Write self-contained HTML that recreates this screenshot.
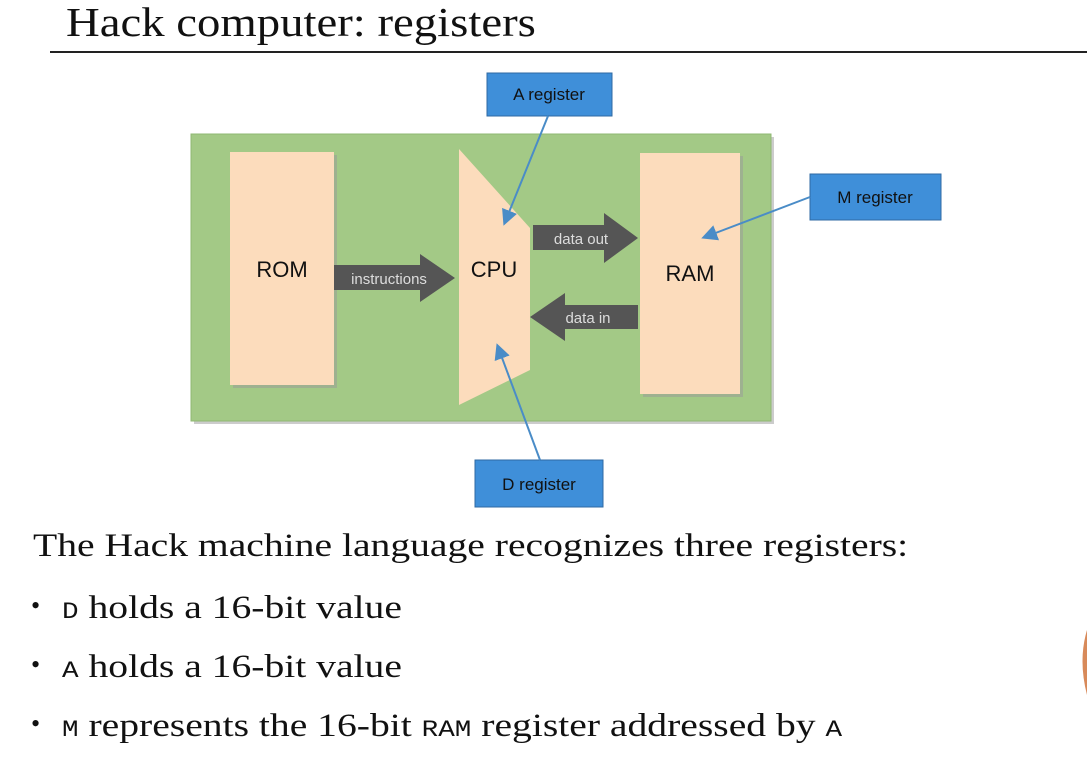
<!DOCTYPE html>
<html><head><meta charset="utf-8"><style>
body{margin:0;width:1087px;height:768px;background:#fff;position:relative;overflow:hidden;font-family:"Liberation Serif",serif;color:#111}
.t{position:absolute;white-space:nowrap;transform-origin:0 0}
.s{font-size:33px;line-height:33px;transform:scaleX(1.2)}
.m{font-family:"Liberation Mono",monospace;font-size:23px}
.b{position:absolute;left:31px;font-size:26px;line-height:30px}
</style></head><body>
<div class="t" style="left:66px;top:-2px;font-size:41px;transform:scaleX(1.14)">Hack computer: registers</div>
<div style="position:absolute;left:50px;top:51px;width:1037px;height:2px;background:#222"></div>
<svg style="position:absolute;left:0;top:0" width="1087" height="768">
<defs><marker id="ah" markerWidth="8" markerHeight="8" refX="6" refY="4" orient="auto"><path d="M0,0 L8,4 L0,8 z" fill="#4a8cc7"/></marker></defs>
<rect x="194" y="137" width="580" height="287" fill="#9a9a9a" opacity=".5"/>
<rect x="191" y="134" width="580" height="287" fill="#a3c986" stroke="#8fb873"/>
<rect x="233" y="155" width="104" height="233" fill="#999" opacity=".5"/>
<rect x="230" y="152" width="104" height="233" fill="#fcdcbc"/>
<rect x="643" y="156" width="100" height="241" fill="#999" opacity=".5"/>
<rect x="640" y="153" width="100" height="241" fill="#fcdcbc"/>
<polygon points="459,149 530,228 530,370 459,405" fill="#fcdcbc"/>
<polygon points="334,265 420,265 420,254 455,278 420,302 420,290 334,290" fill="#555"/>
<polygon points="533,225 604,225 604,213 638,238 604,263 604,250 533,250" fill="#555"/>
<polygon points="638,305 565,305 565,293 530,317 565,341 565,329 638,329" fill="#555"/>
<g font-family="Liberation Sans,sans-serif" fill="#111">
<text x="282" y="277" font-size="22" text-anchor="middle">ROM</text>
<text x="494" y="277" font-size="22" text-anchor="middle">CPU</text>
<text x="690" y="281" font-size="22" text-anchor="middle">RAM</text>
</g>
<g font-family="Liberation Sans,sans-serif" fill="#ddd" font-size="15">
<text x="389" y="284" text-anchor="middle">instructions</text>
<text x="581" y="244" text-anchor="middle">data out</text>
<text x="588" y="323" text-anchor="middle">data in</text>
</g>
<g fill="#3f8fd9" stroke="#2f6aa3">
<rect x="487" y="73" width="125" height="43"/>
<rect x="810" y="174" width="131" height="46"/>
<rect x="475" y="460" width="128" height="47"/>
</g>
<g font-family="Liberation Sans,sans-serif" fill="#111" font-size="17" text-anchor="middle">
<text x="549" y="100">A register</text>
<text x="875" y="203">M register</text>
<text x="539" y="490">D register</text>
</g>
<g stroke="#4a8cc7" stroke-width="2" marker-end="url(#ah)">
<line x1="548" y1="116" x2="505" y2="222"/>
<line x1="810" y1="197" x2="705" y2="237"/>
<line x1="540" y1="460" x2="498" y2="347"/>
</g>
<path d="M1087,630 Q1078,660 1087,695 z" fill="#d88a5a"/>
</svg>
<div class="t s" style="left:33px;top:530px">The Hack machine language recognizes three registers:</div>
<div class="b" style="top:591px">•</div>
<div class="b" style="top:650px">•</div>
<div class="b" style="top:709px">•</div>
<div class="t s" style="left:62px;top:592px"><span class="m">D</span> holds a 16-bit value</div>
<div class="t s" style="left:62px;top:651px"><span class="m">A</span> holds a 16-bit value</div>
<div class="t s" style="left:62px;top:710px"><span class="m">M</span> represents the 16-bit <span class="m">RAM</span> register addressed by <span class="m">A</span></div>
</body></html>
